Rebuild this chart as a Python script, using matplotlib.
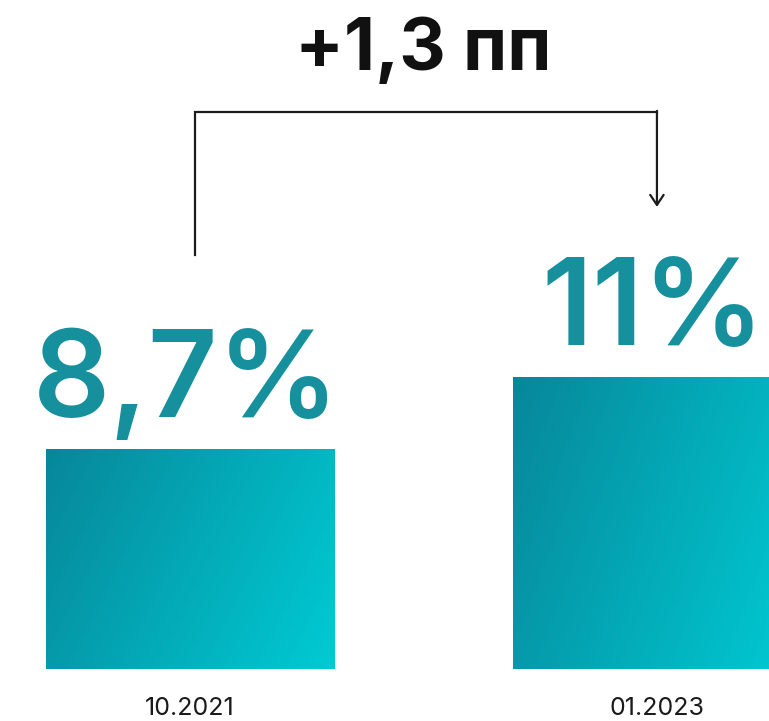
import numpy as np
import matplotlib
matplotlib.use("Agg")
import matplotlib.pyplot as plt
from matplotlib.colors import LinearSegmentedColormap

# ---- data ----
categories = ["10.2021", "01.2023"]
values = [8.7, 11.0]
value_labels = ["8,7%", "11%"]
change_label = "+1,3 пп"

# ---- style ----
FONT = "Inter"
TEAL_TEXT = "#17909E"
grad_cmap = LinearSegmentedColormap.from_list("g", ["#07879A", "#00CBD3"])

fig = plt.figure(figsize=(7.69, 7.21), dpi=100)
fig.patch.set_facecolor("white")
ax = fig.add_axes([0, 52 / 721, 1, 669 / 721])

x = np.arange(len(categories))
bar_w = 0.617
bars = ax.bar(x, values, width=bar_w, color="none", edgecolor="none", zorder=2)

ybase = 1.67
ytop = 23.04
ax.set_xlim(-0.407, 1.240)
ax.set_ylim(ybase, ytop)

# gradient fill of bars
ny, nx = 200, 200
u = np.linspace(0, 1, nx)[None, :]
v = np.linspace(0, 1, ny)[:, None]
grad = 0.72 * u + 0.28 * v
for b in bars:
    x0, w = b.get_x(), b.get_width()
    y1 = b.get_y() + b.get_height()
    im = ax.imshow(grad, cmap=grad_cmap, extent=[x0, x0 + w, ybase, y1],
                   origin="upper", aspect="auto", zorder=2, interpolation="bicubic")
    im.set_clip_path(b)
ax.set_xlim(-0.407, 1.240)
ax.set_ylim(ybase, ytop)

# value labels
for xi, val, lab in zip(x, values, value_labels):
    ax.annotate(lab, (xi, val), xytext=(-3, 23), textcoords="offset points",
                ha="center", va="baseline", fontsize=87, fontweight=600,
                color=TEAL_TEXT, family=FONT)

# bracket
left_y = values[0] + 6.2
top_y = values[1] + 8.47
tip_y = values[1] + 5.43
lx = x[0] + 0.01
ax.plot([lx, lx, x[1]], [left_y, top_y, top_y], color="#1c1c1c", lw=1.6,
        solid_joinstyle="miter", zorder=3)
ax.annotate("", xy=(x[1], tip_y), xytext=(x[1], top_y + 0.03),
            arrowprops=dict(arrowstyle="->,head_length=0.45,head_width=0.3",
                            color="#1c1c1c", lw=1.6, mutation_scale=16,
                            shrinkA=0, shrinkB=0), zorder=3)
ax.text((x[0] + x[1]) / 2 + 0.0, top_y + 1.95, change_label, ha="center",
        va="center", fontsize=52, fontweight="bold", color="#111111", family=FONT)

# category labels
ax.set_xticks(x)
ax.set_xticklabels(categories, fontsize=18, color="#1a1a1a", family=FONT)
ax.tick_params(axis="x", length=0, pad=20)
ax.set_yticks([])
for s in ax.spines.values():
    s.set_visible(False)
ax.set_facecolor("white")

fig.savefig("out.png", dpi=100, facecolor="white")
